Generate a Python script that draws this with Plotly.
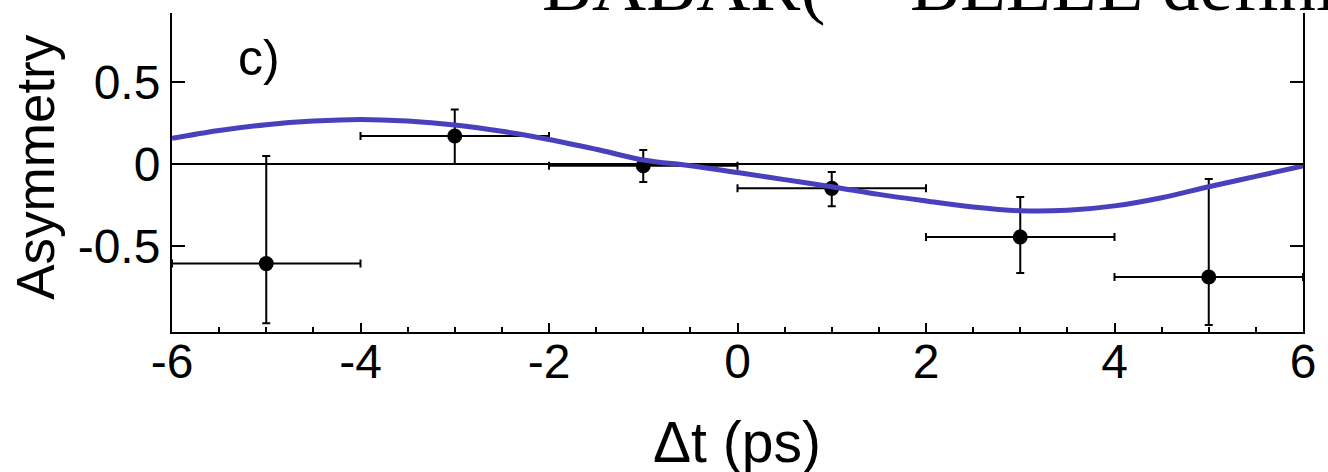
import plotly.graph_objects as go

# Data points (Delta t bins, asymmetry, asymmetric errors)
dt = [-5, -3, -1, 1, 3, 5]
dt_halfwidth = [1, 1, 1, 1, 1, 1]
asym = [-0.607, 0.171, -0.010, -0.148, -0.445, -0.689]
err_up = [0.656, 0.162, 0.095, 0.100, 0.244, 0.598]
err_down = [0.363, 0.171, 0.100, 0.110, 0.220, 0.293]

# Fit curve
curve_t = [-6, -5.5, -5, -4.5, -4, -3.5, -3, -2.5, -2, -1.5, -1, -0.5, 0,
           0.5, 1, 1.5, 2, 2.5, 3, 3.5, 4, 4.5, 5, 5.5, 6]
curve_a = [0.157, 0.205, 0.240, 0.262, 0.272, 0.262, 0.238, 0.200, 0.150, 0.090,
           0.025, -0.010, -0.052, -0.095, -0.138, -0.185, -0.225, -0.262, -0.285,
           -0.282, -0.255, -0.205, -0.138, -0.075, -0.012]

x_ticks = [-6, -4, -2, 0, 2, 4, 6]
y_ticks = [-0.5, 0, 0.5]
y_tick_text = ["-0.5", "0", "0.5"]

SANS = "Liberation Sans, Arial, sans-serif"
SERIF = "Liberation Serif, Times New Roman, serif"

L, R, T, B = 172, 19, 13, 140
W, H = 1328, 472
PW, PH = W - L - R, H - T - B


def px(xp):
    return (xp - L) / PW


def py(yp):
    return (H - B - yp) / PH


fig = go.Figure()

fig.add_trace(go.Scatter(
    x=dt, y=asym, mode="markers",
    marker=dict(color="black", size=15),
    error_x=dict(type="data", array=dt_halfwidth, color="black", thickness=2, width=4),
    error_y=dict(type="data", symmetric=False, array=err_up, arrayminus=err_down,
                 color="black", thickness=2, width=4),
    showlegend=False,
))

fig.add_trace(go.Scatter(
    x=curve_t, y=curve_a, mode="lines",
    line=dict(color="#4840bc", width=5, shape="spline"),
    showlegend=False,
))

fig.update_layout(
    width=W, height=H,
    margin=dict(l=L, r=R, t=T, b=B),
    paper_bgcolor="white", plot_bgcolor="white",
    font=dict(family=SANS, color="black"),
    xaxis=dict(
        range=[-6, 6], tickvals=x_ticks, ticktext=[str(v) for v in x_ticks],
        showline=True, linecolor="black", linewidth=2, mirror=False,
        ticks="inside", ticklen=9, tickwidth=2, tickcolor="black",
        minor=dict(dtick=0.5, tick0=0, ticks="inside", ticklen=5, tickwidth=1.5, tickcolor="black"),
        showgrid=False, zeroline=False,
        tickfont=dict(size=48, family=SANS, color="black"),
        ticklabelstandoff=-14,
    ),
    yaxis=dict(
        range=[-1.024, 0.921], tickvals=y_ticks, ticktext=y_tick_text,
        showline=True, linecolor="black", linewidth=2, mirror="ticks",
        ticks="inside", ticklen=13, tickwidth=2, tickcolor="black",
        showgrid=False, zeroline=True, zerolinecolor="black", zerolinewidth=2,
        tickfont=dict(size=48, family=SANS, color="black"),
    ),
    annotations=[
        dict(text="BABAR(=\u2212BELLE definition)", xref="paper", yref="paper",
             x=px(542), y=py(28), xanchor="left", yanchor="bottom", showarrow=False,
             font=dict(family=SERIF, size=75, color="black")),
        dict(text="c)", xref="paper", yref="paper", x=px(259), y=py(58),
             xanchor="center", yanchor="middle", showarrow=False,
             font=dict(family=SANS, size=50, color="black")),
        dict(text="Asymmetry", xref="paper", yref="paper", x=px(34), y=py(167),
             xanchor="center", yanchor="middle", textangle=-90, showarrow=False,
             font=dict(family=SANS, size=53, color="black")),
        dict(text="\u0394t (ps)", xref="paper", yref="paper", x=px(740), y=py(442),
             xanchor="center", yanchor="middle", showarrow=False,
             font=dict(family=SANS, size=57, color="black")),
    ],
)

fig.write_html("out.html")
